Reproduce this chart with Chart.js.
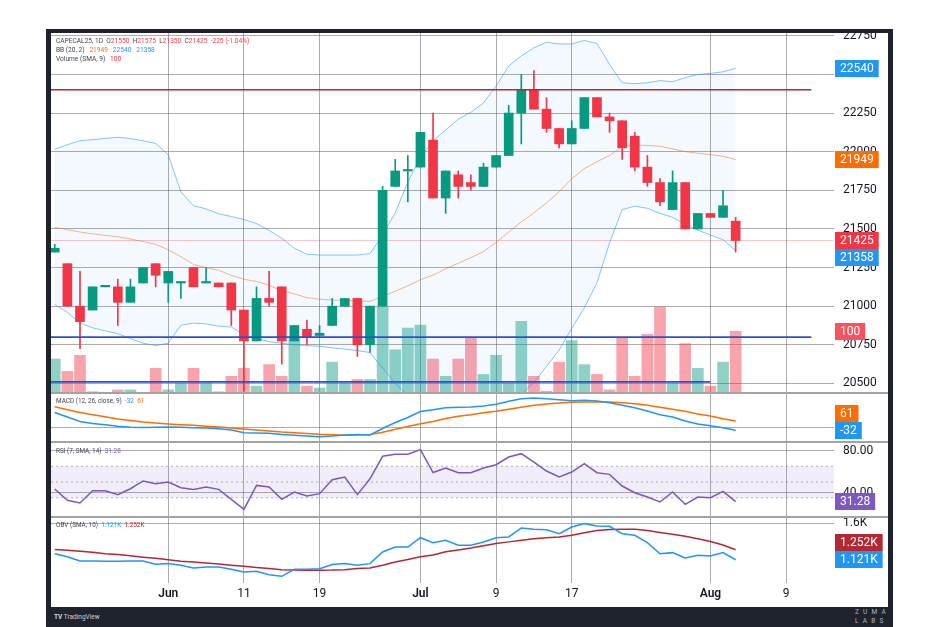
<!DOCTYPE html>
<html>
<head>
<meta charset="utf-8">
<script src="https://cdn.jsdelivr.net/npm/chart.js@4.4.1/dist/chart.umd.min.js"></script>
<style>
  html, body { margin:0; padding:0; background:#ffffff; width:940px; height:627px; overflow:hidden; }
  body { position:relative; font-family: Roboto, "DejaVu Sans", sans-serif; }
  #frame { position:absolute; left:46px; top:29px; width:847px; height:598px; background:#1e222d; }
  #inner { position:absolute; left:51px; top:33px; width:837px; height:574px; background:#ffffff; }
  canvas { position:absolute; left:51px; }
  .sep { position:absolute; left:51px; width:837px; height:2px; background:#a3a3a3; z-index:3; }
  .lg { position:absolute; left:56px; font-size:6.4px; line-height:8px; color:#434651; white-space:pre; z-index:4; }
  .lgm { font-size:6.6px; line-height:9px; }
  #tv { position:absolute; left:54px; top:613px; font-size:6.5px; color:#d1d4dc; }
  #zuma { position:absolute; left:855px; top:608px; font-size:6.5px; line-height:8.5px; color:#b2b5be; letter-spacing:4.2px; }
</style>
</head>
<body>
<div id="frame"></div>
<div id="inner"></div>
<canvas id="cPrice" width="837" height="360" style="top:33px"></canvas>
<canvas id="cMacd" width="837" height="49" style="top:393px"></canvas>
<canvas id="cRsi" width="837" height="75" style="top:442px"></canvas>
<canvas id="cObv" width="837" height="90" style="top:517px"></canvas>
<div class="sep" style="top:392px"></div>
<div class="sep" style="top:441px"></div>
<div class="sep" style="top:516px"></div>
<div class="lg lgm" id="lgMain" style="top:36.5px"></div>
<div class="lg lgm" id="lgBB" style="top:45.5px"></div>
<div class="lg lgm" id="lgVol" style="top:54.5px"></div>
<div class="lg" id="lgMacd" style="top:397px"></div>
<div class="lg" id="lgRsi" style="top:447px"></div>
<div class="lg" id="lgObv" style="top:521px"></div>
<div id="tv"><b>TV</b> TradingView</div>
<div id="zuma">ZUMA<br>LABS</div>
<script>
// ---------------- DATA ----------------
const dates = ['2024-05-21','2024-05-22','2024-05-23','2024-05-24','2024-05-27','2024-05-28','2024-05-29','2024-05-30','2024-05-31',
'2024-06-03','2024-06-04','2024-06-05','2024-06-06','2024-06-07','2024-06-10','2024-06-11','2024-06-12','2024-06-13','2024-06-14',
'2024-06-17','2024-06-18','2024-06-19','2024-06-20','2024-06-21','2024-06-24','2024-06-25','2024-06-26','2024-06-27','2024-06-28',
'2024-07-01','2024-07-02','2024-07-03','2024-07-04','2024-07-05','2024-07-08','2024-07-09','2024-07-10','2024-07-11','2024-07-12',
'2024-07-15','2024-07-16','2024-07-17','2024-07-18','2024-07-19','2024-07-22','2024-07-23','2024-07-24','2024-07-25','2024-07-26',
'2024-07-29','2024-07-30','2024-07-31','2024-08-01','2024-08-02','2024-08-05','2024-08-06','2024-08-07','2024-08-08','2024-08-09',
'2024-08-12','2024-08-13','2024-08-14'];
const tickDates = ['2024-06-03','2024-06-11','2024-06-19','2024-07-01','2024-07-09','2024-07-17','2024-08-01','2024-08-09'];
const tickLabels = ['Jun','11','19','Jul','9','17','Aug','9'];

const opens = [21350,21275,21000,20975,21125,21125,21025,21150,21275,21150,
  21150,21250,21150,21150,21150,20975,20775,21050,21125,20775,
  20850,20810,20875,21000,21050,20750,21000,21775,21875,21900,
  22075,21700,21850,21800,21775,21900,21975,22250,22400,22275,
  22150,22050,22150,22350,22225,22200,22100,21900,21800,21625,
  21800,21500,21600,21575,21550];
const highs = [21400,21275,21225,21125,21130,21175,21175,21250,21275,21225,
  21155,21250,21250,21150,21150,20975,21125,21225,21125,20875,
  20910,20875,21050,21050,21050,21000,21775,21950,21975,22125,
  22250,21875,21875,21850,21925,21975,22300,22500,22525,22350,
  22150,22200,22350,22350,22250,22200,22125,21975,21825,21875,
  21800,21600,21600,21750,21575];
const lows = [21350,21000,20725,20975,21125,20875,21025,21150,21125,21025,
  21050,21125,21150,21125,20875,20450,20775,21000,20625,20775,
  20750,20800,20875,21000,20675,20700,21000,21775,21675,21900,
  21700,21600,21700,21750,21775,21900,21975,22050,22275,22125,
  22025,22050,22150,22225,22125,21950,21875,21775,21650,21625,
  21500,21500,21575,21575,21350];
const closes = [21375,21000,20900,21125,21130,21025,21125,21250,21200,21225,
  21155,21125,21155,21125,20975,20775,21050,21025,20775,20875,
  20800,20825,21000,21050,20750,21000,21750,21875,21880,22125,
  21700,21875,21775,21775,21900,21975,22250,22400,22275,22150,
  22050,22150,22350,22225,22200,22025,21900,21800,21675,21800,
  21500,21600,21575,21650,21425];
const volumes = [55,35,61,2,1,5,5,1,40,5,
  16,40,16,2,27,40,11,46,27,88,
  11,8,50,16,22,22,139,70,105,110,
  55,27,55,90,30,61,16,116,27,3,
  50,85,46,30,5,90,27,95,139,16,
  80,40,11,50,100];
const bbUpper = [22015,22045,22071,22078,22085,22093,22085,22070,22054,21980,
  21740,21650,21630,21598,21580,21561,21535,21490,21440,21375,
  21336,21331,21331,21331,21331,21340,21460,21604,21803,21964,
  22070,22140,22210,22255,22315,22425,22555,22620,22672,22708,
  22697,22697,22720,22700,22565,22446,22440,22446,22460,22452,
  22479,22500,22506,22517,22540];
const bbBasis = [21510,21495,21480,21468,21458,21449,21435,21418,21400,21365,
  21320,21270,21250,21232,21200,21174,21160,21135,21100,21080,
  21055,21045,21040,21038,21034,21031,21064,21096,21132,21171,
  21201,21241,21278,21314,21353,21413,21479,21546,21604,21668,
  21740,21825,21890,21935,21975,22033,22043,22040,22035,22018,
  22000,21990,21981,21970,21949];
const bbLower = [21010,20960,20890,20860,20840,20822,20790,20760,20745,20760,
  20876,20890,20885,20870,20865,20815,20790,20770,20760,20750,
  20745,20740,20730,20722,20712,20700,20600,20500,20420,20355,
  20350,20370,20390,20390,20410,20430,20420,20430,20505,20610,
  20715,20855,20990,21150,21410,21625,21647,21633,21600,21575,
  21530,21492,21460,21430,21358];
const macdLine = [145,100,55,35,22,8,-3,-5,-2,0,
  -3,-7,-10,-18,-30,-58,-60,-63,-75,-82,
  -90,-97,-90,-80,-75,-80,-15,45,95,155,
  173,193,197,200,210,227,257,283,290,283,
  273,263,267,260,243,217,193,160,123,100,
  60,30,13,-7,-32];
const macdSignal = [202,173,145,123,102,81,64,49,39,31,
  23,17,8,0,-10,-20,-30,-40,-50,-57,
  -65,-73,-78,-83,-80,-75,-53,-22,5,32,
  55,85,107,123,143,158,177,197,217,230,
  240,247,250,250,250,243,233,217,197,177,
  157,130,110,83,61];
const rsi = [43.3,32.6,30,41.7,41.7,38,43.6,51,48.4,50,
  44.6,43,45.2,43,33.5,24,46.8,45.2,33.5,40.5,
  36.7,38.9,52.2,54.8,38,53.1,74.5,76.4,76.4,80.8,
  59,63.3,58.9,58.9,63.3,66.5,73.8,77,69,60.5,
  54.8,59.5,67.4,58.9,57.3,46.2,39.8,35.7,31,40.5,
  28.8,35.7,35,41.1,31.28];
const rsiLevels = [65, 50, 35];
const obv = [1200,1160,1104,1104,1100,1100,1104,1104,1061,1070,
  1048,1013,1026,1026,996,960,969,925,904,996,
  996,1004,1057,1070,1048,1070,1223,1288,1288,1410,
  1345,1376,1310,1310,1354,1410,1420,1537,1520,1515,
  1462,1550,1594,1563,1559,1462,1441,1345,1200,1214,
  1144,1179,1170,1214,1121];
const obvSma = [1255,1245,1232,1218,1200,1188,1172,1155,1140,1120,
  1101,1090,1078,1066,1050,1035,1020,1005,991,985,
  983,983,985,991,1005,1013,1050,1092,1125,1160,
  1183,1225,1250,1275,1305,1333,1355,1375,1396,1408,
  1420,1441,1476,1505,1518,1522,1520,1503,1478,1455,
  1430,1395,1360,1313,1252];
const hLevels = [22400, 20800, 20510];
const hEndIdx = [60, 60, 52];
const priceTicks = [20500,20750,21000,21250,21500,21750,22000,22250,22500,22750];
const rsiTicks = [80, 40];
const obvTicks = [1600];
const macdTicks = [0];

// ---------------- STYLE / LAYOUT ----------------
Chart.defaults.font.family = 'Roboto, "DejaVu Sans", sans-serif';
const X_MIN = -0.3, X_MAX = 61.8;
const GREEN = '#089981', RED = '#f23645', BLUE = '#2196f3', ORANGE = '#ff6d00', PURPLE = '#7e57c2', DARKRED = '#b22833';
const GRID = 'rgba(90,90,90,0.5)';
const last = closes.length - 1;
const tickIdx = tickDates.map(d => dates.indexOf(d));
const idx = closes.map((_, i) => i);
const up = i => closes[i] >= opens[i];
const pts = arr => arr.map((v, i) => ({x: i, y: v}));
const hline = (level, x1) => [{x: X_MIN, y: level}, {x: x1, y: level}];

function xAxis(show) {
  return {
    type: 'linear', min: X_MIN, max: X_MAX, bounds: 'data', offset: false,
    afterBuildTicks: s => { s.ticks = tickIdx.map(v => ({value: v})); },
    afterFit: s => { s.height = show ? 24 : 0; s.paddingLeft = 0; s.paddingRight = 0; },
    grid: { color: GRID, lineWidth: 1, drawTicks: false, offset: false },
    border: { display: false },
    ticks: {
      display: show, autoSkip: false, maxRotation: 0, minRotation: 0, padding: 4, color: '#131722',
      font: c => {
        const k = c.tick ? tickIdx.indexOf(c.tick.value) : -1;
        const isMonth = k >= 0 && /[A-Za-z]/.test(tickLabels[k]);
        return { size: 12, weight: isMonth ? '600' : '400' };
      },
      callback: v => { const k = tickIdx.indexOf(v); return k >= 0 ? tickLabels[k] : ''; }
    }
  };
}
function yAxis(min, max, ticks, fmt) {
  return {
    type: 'linear', position: 'right', min, max, bounds: 'data', beginAtZero: false,
    afterBuildTicks: s => { s.ticks = ticks.map(v => ({value: v})); },
    afterFit: s => { s.width = 54; s.paddingTop = 0; s.paddingBottom = 0; },
    grid: { color: GRID, lineWidth: 1, drawTicks: false },
    border: { display: false },
    ticks: { padding: 9, color: '#131722', font: { size: 12 }, autoSkip: false, callback: v => fmt(v) }
  };
}
function valueLabels(items) {
  return {
    id: 'valueLabels',
    afterDraw(chart) {
      const ctx = chart.ctx, H = 17, left = chart.chartArea.right + 1;
      ctx.save();
      ctx.font = '12px Roboto, "DejaVu Sans", sans-serif';
      ctx.textBaseline = 'middle';
      const placed = items.map(it => Object.assign({}, it, { y: chart.scales[it.axis].getPixelForValue(it.value) }));
      const prim = placed.filter(p => p.primary);
      placed.forEach(p => {
        if (p.primary) return;
        prim.forEach(q => { const d = p.y - q.y; if (Math.abs(d) < H) p.y = q.y + (d >= 0 ? H : -H); });
      });
      placed.forEach(p => {
        const w = ctx.measureText(p.text).width + 10;
        ctx.fillStyle = p.color;
        ctx.fillRect(left, Math.round(p.y - H / 2), w, H);
        ctx.fillStyle = '#ffffff';
        ctx.fillText(p.text, left + 5, p.y + 0.5);
      });
      ctx.restore();
    }
  };
}
const common = {
  responsive: false, animation: false, events: [],
  layout: { padding: 0 },
  plugins: { legend: { display: false }, tooltip: { enabled: false } }
};
const lineDs = (data, color, width, order, extra) => Object.assign({
  type: 'line', data, borderColor: color, borderWidth: width, pointRadius: 0, tension: 0, fill: false, order
}, extra || {});

// ---------------- PRICE PANE ----------------
new Chart(document.getElementById('cPrice'), {
  type: 'bar',
  data: { datasets: [
    lineDs(pts(bbUpper), 'rgba(33,150,243,0.55)', 1, 6, { label: 'BB upper', fill: '+2', backgroundColor: 'rgba(33,150,243,0.055)' }),
    lineDs(pts(bbBasis), 'rgba(255,109,0,0.5)', 1, 6, { label: 'BB basis' }),
    lineDs(pts(bbLower), 'rgba(33,150,243,0.55)', 1, 6, { label: 'BB lower' }),
    { type: 'bar', label: 'Volume', yAxisID: 'yv', data: pts(volumes), grouped: false, barThickness: 11, order: 7,
      backgroundColor: c => up(c.dataIndex) ? 'rgba(8,153,129,0.45)' : 'rgba(242,54,69,0.45)' },
    lineDs(hline(closes[last], X_MAX), 'rgba(242,54,69,0.28)', 1, 5, { label: 'Last' }),
    { type: 'bar', label: 'Wicks', data: idx.map(i => ({x: i, y: [lows[i], highs[i]]})), grouped: false, barThickness: 1, order: 4,
      backgroundColor: c => up(c.dataIndex) ? GREEN : RED },
    { type: 'bar', label: 'Bodies', data: idx.map(i => ({x: i, y: [opens[i], closes[i]]})), grouped: false, barThickness: 9, minBarLength: 1.5, order: 3,
      backgroundColor: c => up(c.dataIndex) ? GREEN : RED },
    lineDs(hline(hLevels[0], hEndIdx[0]), DARKRED, 1.5, 1, { label: 'Resistance' }),
    lineDs(hline(hLevels[1], hEndIdx[1]), '#2a4fdb', 1.8, 1, { label: 'Support 1' }),
    lineDs(hline(hLevels[2], hEndIdx[2]), '#2a4fdb', 1.8, 1, { label: 'Support 2' })
  ] },
  options: Object.assign({}, common, {
    scales: {
      x: xAxis(false),
      y: yAxis(20438, 22768, priceTicks, v => String(v)),
      yv: { type: 'linear', display: false, min: 0, max: 583, bounds: 'data' }
    }
  }),
  plugins: [valueLabels([
    { axis: 'y', value: bbUpper[last], text: String(bbUpper[last]), color: BLUE },
    { axis: 'y', value: bbBasis[last], text: String(bbBasis[last]), color: ORANGE },
    { axis: 'y', value: closes[last], text: String(closes[last]), color: RED, primary: true },
    { axis: 'y', value: bbLower[last], text: String(bbLower[last]), color: BLUE },
    { axis: 'yv', value: volumes[last], text: String(volumes[last]), color: '#f7525f' }
  ])]
});

// ---------------- MACD PANE ----------------
new Chart(document.getElementById('cMacd'), {
  type: 'line',
  data: { datasets: [
    lineDs(pts(macdLine), BLUE, 1.5, 1, { label: 'MACD' }),
    lineDs(pts(macdSignal), ORANGE, 1.5, 2, { label: 'Signal' })
  ] },
  options: Object.assign({}, common, {
    scales: { x: xAxis(false), y: yAxis(-150, 340, macdTicks, v => '') }
  }),
  plugins: [valueLabels([
    { axis: 'y', value: macdSignal[last], text: String(macdSignal[last]), color: ORANGE },
    { axis: 'y', value: macdLine[last], text: String(macdLine[last]), color: BLUE, primary: true }
  ])]
});

// ---------------- RSI PANE ----------------
const bandStyle = { borderDash: [2, 3] };
new Chart(document.getElementById('cRsi'), {
  type: 'line',
  data: { datasets: [
    lineDs(hline(rsiLevels[0], X_MAX), 'rgba(120,123,134,0.55)', 1, 3, Object.assign({ label: 'Upper', fill: '+2', backgroundColor: 'rgba(126,87,194,0.1)' }, bandStyle)),
    lineDs(hline(rsiLevels[1], X_MAX), 'rgba(120,123,134,0.55)', 1, 3, Object.assign({ label: 'Middle' }, bandStyle)),
    lineDs(hline(rsiLevels[2], X_MAX), 'rgba(120,123,134,0.55)', 1, 3, Object.assign({ label: 'Lower' }, bandStyle)),
    lineDs(pts(rsi), PURPLE, 1.5, 1, { label: 'RSI' })
  ] },
  options: Object.assign({}, common, {
    scales: { x: xAxis(false), y: yAxis(16.7, 88.1, rsiTicks, v => v.toFixed(2)) }
  }),
  plugins: [valueLabels([
    { axis: 'y', value: rsi[last], text: rsi[last].toFixed(2), color: PURPLE, primary: true }
  ])]
});

// ---------------- OBV PANE ----------------
const kFmt = v => (v / 1000).toFixed(3) + 'K';
new Chart(document.getElementById('cObv'), {
  type: 'line',
  data: { datasets: [
    lineDs(pts(obv), BLUE, 1.5, 1, { label: 'OBV' }),
    lineDs(pts(obvSma), DARKRED, 1.5, 2, { label: 'OBV SMA' })
  ] },
  options: Object.assign({}, common, {
    scales: { x: xAxis(true), y: yAxis(816, 1681, obvTicks, v => (v / 1000).toFixed(1) + 'K') }
  }),
  plugins: [valueLabels([
    { axis: 'y', value: obvSma[last], text: kFmt(obvSma[last]), color: DARKRED },
    { axis: 'y', value: obv[last], text: kFmt(obv[last]), color: BLUE, primary: true }
  ])]
});

// ---------------- LEGENDS ----------------
const seg = (t, c) => '<span style="color:' + c + '">' + t + '</span>';
const chg = closes[last] - closes[last - 1];
const pct = chg / closes[last - 1] * 100;
document.getElementById('lgMain').innerHTML =
  'CAPECAL25, 1D  O' + seg(opens[last], RED) + '  H' + seg(highs[last], RED) + '  L' + seg(lows[last], RED) +
  '  C' + seg(closes[last], RED) + '  ' + seg(chg + ' (' + pct.toFixed(2) + '%)', RED);
document.getElementById('lgBB').innerHTML =
  'BB (20, 2)   ' + seg(bbBasis[last], ORANGE) + '   ' + seg(bbUpper[last], BLUE) + '   ' + seg(bbLower[last], BLUE);
document.getElementById('lgVol').innerHTML = 'Volume (SMA, 9)   ' + seg(volumes[last], RED);
document.getElementById('lgMacd').innerHTML =
  'MACD (12, 26, close, 9)  ' + seg(macdLine[last], BLUE) + '  ' + seg(macdSignal[last], ORANGE);
document.getElementById('lgRsi').innerHTML = 'RSI (7, SMA, 14)  ' + seg(rsi[last].toFixed(2), PURPLE);
document.getElementById('lgObv').innerHTML =
  'OBV (SMA, 10)  ' + seg(kFmt(obv[last]), BLUE) + '  ' + seg(kFmt(obvSma[last]), DARKRED);
</script>
</body>
</html>
